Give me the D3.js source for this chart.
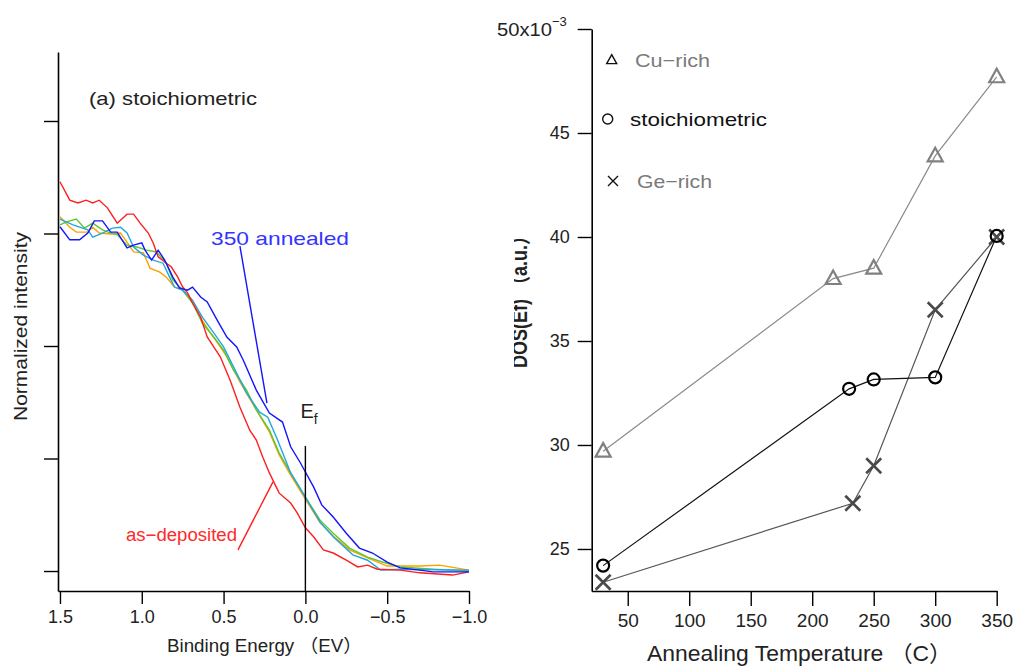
<!DOCTYPE html>
<html>
<head>
<meta charset="utf-8">
<script src="https://cdn.jsdelivr.net/npm/d3@7"></script>
<style>
  html, body { margin: 0; padding: 0; background: #fff; }
  svg { display: block; }
  text { font-family: "Liberation Sans", Arial, "Noto Sans CJK JP", sans-serif; }
</style>
</head>
<body>
<svg id="chart" width="1018" height="667"></svg>
<script>
// ---------- (a) photoemission spectra near the Fermi edge ----------
const energyTicks = [1.5, 1.0, 0.5, 0.0, -0.5, -1.0];
const energyTickLabels = ["1.5", "1.0", "0.5", "0.0", "\u22120.5", "\u22121.0"];
const intensityTicks = [0, 0.25, 0.5, 0.75, 1.0];

const redE = [1.50,1.44,1.39,1.34,1.30,1.26,1.21,1.15,1.09,1.05,1.01,0.96,0.93,0.90,0.85,0.82,0.78,0.75,0.72,0.69,0.64,0.60,0.56,0.52,0.46,0.40,0.34,0.30,0.26,0.22,0.16,0.09,0.05,0.00,-0.05,-0.11,-0.17,-0.25,-0.32,-0.38,-0.44,-0.58,-0.70,-0.90,-1.00];
const redI = [0.865,0.824,0.818,0.824,0.818,0.824,0.807,0.773,0.793,0.793,0.773,0.751,0.729,0.698,0.684,0.676,0.653,0.631,0.618,0.596,0.564,0.520,0.498,0.476,0.424,0.364,0.313,0.291,0.253,0.218,0.173,0.151,0.129,0.096,0.076,0.047,0.040,0.024,0.009,0.013,0.004,0.002,-0.004,-0.009,-0.002];

const orangeE = [1.50,1.44,1.40,1.33,1.30,1.26,1.19,1.13,1.09,1.05,0.99,0.95,0.89,0.85,0.80,0.75,0.69,0.64,0.58,0.52,0.48,0.40,0.30,0.22,0.16,0.09,0.00,-0.09,-0.17,-0.27,-0.38,-0.50,-0.70,-0.82,-1.00];
const orangeI = [0.787,0.764,0.753,0.753,0.764,0.751,0.749,0.751,0.731,0.709,0.707,0.673,0.664,0.653,0.631,0.624,0.596,0.562,0.529,0.498,0.476,0.420,0.358,0.309,0.258,0.213,0.160,0.107,0.078,0.047,0.029,0.011,0.011,0.013,0.002];

const greenE = [1.50,1.46,1.40,1.35,1.30,1.24,1.19,1.15,1.09,1.03,0.97,0.91,0.85,0.81,0.75,0.69,0.63,0.56,0.50,0.44,0.36,0.30,0.22,0.16,0.09,0.00,-0.09,-0.17,-0.27,-0.38,-0.47,-0.58,-0.78,-1.00];
const greenI = [0.769,0.776,0.782,0.762,0.773,0.758,0.751,0.747,0.724,0.720,0.713,0.709,0.684,0.647,0.624,0.596,0.551,0.520,0.491,0.447,0.402,0.358,0.313,0.262,0.218,0.164,0.113,0.084,0.051,0.031,0.020,0.009,0.004,0.000];

const cyanE = [1.50,1.42,1.33,1.30,1.24,1.18,1.13,1.09,1.05,0.99,0.93,0.87,0.83,0.80,0.75,0.69,0.63,0.56,0.50,0.43,0.36,0.28,0.23,0.17,0.09,0.00,-0.09,-0.17,-0.29,-0.38,-0.46,-0.58,-1.00];
const cyanI = [0.782,0.769,0.758,0.742,0.751,0.762,0.764,0.751,0.720,0.702,0.691,0.684,0.653,0.631,0.624,0.602,0.564,0.529,0.498,0.447,0.396,0.353,0.342,0.291,0.218,0.164,0.109,0.076,0.036,0.024,0.002,0.004,0.002];

const blueE = [1.50,1.44,1.38,1.33,1.29,1.24,1.19,1.15,1.09,1.05,1.00,0.98,0.94,0.90,0.86,0.81,0.77,0.72,0.69,0.64,0.60,0.54,0.48,0.42,0.38,0.30,0.22,0.14,0.09,0.03,0.00,-0.05,-0.10,-0.17,-0.25,-0.33,-0.41,-0.50,-0.58,-0.70,-0.78,-1.00];
const blueI = [0.765,0.736,0.736,0.751,0.778,0.778,0.753,0.753,0.718,0.724,0.729,0.713,0.691,0.713,0.691,0.653,0.629,0.624,0.631,0.609,0.598,0.558,0.520,0.498,0.469,0.402,0.351,0.331,0.276,0.240,0.220,0.187,0.147,0.120,0.084,0.051,0.040,0.020,0.007,0.002,-0.002,-0.002];

const spectra = [
  { name: "orange", color: "#ffa000", E: orangeE, I: orangeI },
  { name: "green",  color: "#5cc832", E: greenE,  I: greenI },
  { name: "cyan",   color: "#22a6e0", E: cyanE,   I: cyanI },
  { name: "red",    color: "#ff1e1e", E: redE,    I: redI },
  { name: "blue",   color: "#1414ff", E: blueE,   I: blueI }
];

// ---------- (b) DOS at the Fermi level vs annealing temperature ----------
const tempTicks = [50, 100, 150, 200, 250, 300, 350];
const dosTicks = [25, 30, 35, 40, 45, 50];

const cuRichT = [30, 217, 250, 300, 350];
const cuRichDOS = [29.7, 38.0, 38.5, 43.9, 47.7];
const stoichT = [30, 230, 250, 300, 350];
const stoichDOS = [24.2, 32.7, 33.15, 33.25, 40.05];
const geRichT = [30, 233, 250, 300, 350];
const geRichDOS = [23.4, 27.2, 29.0, 36.5, 40.0];

const svg = d3.select("#chart");

// helper: text stretched to a given advance width
function fitText(sel, len) {
  return sel.attr("textLength", len).attr("lengthAdjust", "spacingAndGlyphs");
}

// ======================= left panel =======================
const xE = d3.scaleLinear().domain([1.512, -1.0]).range([58, 469]);
const yI = d3.scaleLinear().domain([-0.0444, 1.1533]).range([591, 52]);

const left = svg.append("g");

left.append("g")
  .attr("transform", "translate(0,591)")
  .call(d3.axisBottom(xE).tickValues(energyTicks)
    .tickFormat((d, i) => energyTickLabels[i]).tickSize(13).tickSizeOuter(0))
  .call(g => g.select(".domain").attr("stroke-width", 1.6))
  .call(g => g.selectAll(".tick line").attr("stroke-width", 1.4))
  .call(g => g.selectAll(".tick text").attr("font-size", 18).attr("dy", "0.9em").attr("fill", "#222"));

left.append("g")
  .attr("transform", "translate(58,0)")
  .call(d3.axisLeft(yI).tickValues(intensityTicks).tickFormat("").tickSize(14).tickSizeOuter(0))
  .call(g => g.select(".domain").attr("stroke-width", 1.6))
  .call(g => g.selectAll(".tick line").attr("stroke-width", 1.4));

const specLine = d3.line().x(d => xE(d[0])).y(d => yI(d[1]));
left.append("g").selectAll("path")
  .data(spectra)
  .join("path")
  .attr("d", s => specLine(s.E.map((e, i) => [e, s.I[i]])))
  .attr("fill", "none")
  .attr("stroke", s => s.color)
  .attr("stroke-width", 1.4);

// Fermi level marker
const efTop = 0.278;
left.append("line")
  .attr("x1", xE(0)).attr("x2", xE(0))
  .attr("y1", yI(efTop)).attr("y2", yI(-0.0444))
  .attr("stroke", "#000").attr("stroke-width", 1.4);
const efLabel = left.append("text")
  .attr("x", xE(0) - 5).attr("y", yI(efTop) - 28)
  .attr("font-size", 20).attr("fill", "#222");
efLabel.append("tspan").text("E");
efLabel.append("tspan").attr("font-size", 14).attr("dy", 6).text("f");

// annotations with leader lines
left.append("line")
  .attr("x1", xE(0.400)).attr("y1", yI(0.722))
  .attr("x2", xE(0.235)).attr("y2", yI(0.373))
  .attr("stroke", "#1414ff").attr("stroke-width", 1.4);
fitText(left.append("text")
  .attr("x", 211).attr("y", 245)
  .attr("font-size", 19).attr("fill", "#3434ff")
  .text("350 annealed"), 138);

left.append("line")
  .attr("x1", xE(0.412)).attr("y1", yI(0.047))
  .attr("x2", xE(0.198)).attr("y2", yI(0.198))
  .attr("stroke", "#ff1e1e").attr("stroke-width", 1.4);
fitText(left.append("text")
  .attr("x", 126).attr("y", 541)
  .attr("font-size", 18).attr("fill", "#ff2a2a")
  .text("as\u2212deposited"), 111);

fitText(left.append("text")
  .attr("x", 89).attr("y", 105)
  .attr("font-size", 19).attr("fill", "#222")
  .text("(a) stoichiometric"), 168);

fitText(left.append("text")
  .attr("transform", "translate(27,232) rotate(-90)")
  .attr("x", -189).attr("y", 0)
  .attr("font-size", 18).attr("fill", "#222")
  .text("Normalized intensity"), 189);

fitText(left.append("text")
  .attr("x", 167).attr("y", 652)
  .attr("font-size", 18).attr("fill", "#222")
  .text("Binding Energy \uFF08EV\uFF09"), 195);

// ======================= right panel =======================
const xT = d3.scaleLinear().domain([20.7, 350]).range([591.7, 996.7]);
const yD = d3.scaleLinear().domain([22.98, 50]).range([591, 29]);

const right = svg.append("g");

right.append("g")
  .attr("transform", "translate(0,591)")
  .call(d3.axisBottom(xT).tickValues(tempTicks).tickSize(15).tickSizeOuter(0))
  .call(g => g.select(".domain").attr("stroke-width", 1.6))
  .call(g => g.selectAll(".tick line").attr("stroke-width", 1.4))
  .call(g => g.selectAll(".tick text").attr("font-size", 19).attr("dy", "0.95em").attr("fill", "#222"));

right.append("g")
  .attr("transform", "translate(591.7,0)")
  .call(d3.axisLeft(yD).tickValues(dosTicks).tickSize(14).tickSizeOuter(0)
    .tickFormat(d => d === 50 ? "" : d))
  .call(g => g.select(".domain").attr("stroke-width", 1.6))
  .call(g => g.selectAll(".tick line").attr("stroke-width", 1.4))
  .call(g => g.selectAll(".tick text").attr("font-size", 18).attr("x", -22).attr("fill", "#222"));

// top tick label with the scale multiplier
const topLbl = right.append("text")
  .attr("x", 497).attr("y", yD(50) + 7)
  .attr("font-size", 18).attr("fill", "#222");
fitText(topLbl.append("tspan").text("50x10"), 55);
topLbl.append("tspan").attr("font-size", 13).attr("dy", -10).text("\u22123");

// axis titles; the y title is cut by the panel's left edge
const clip = svg.append("defs").append("clipPath").attr("id", "ytitleClip");
clip.append("rect").attr("x", 514).attr("y", 0).attr("width", 60).attr("height", 667);
fitText(right.append("g").attr("clip-path", "url(#ytitleClip)")
  .append("text")
  .attr("transform", "translate(527,368) rotate(-90)")
  .attr("font-size", 22).attr("font-weight", "bold").attr("fill", "#222")
  .text("DOS(Ef) \uFF08a.u.\uFF09"), 141);

fitText(right.append("text")
  .attr("x", 647).attr("y", 661)
  .attr("font-size", 22).attr("fill", "#222")
  .text("Annealing Temperature \uFF08C\uFF09"), 305);

// series lines
const tLine = d3.line().x(d => xT(d[0])).y(d => yD(d[1]));
const series = [
  { T: cuRichT, D: cuRichDOS, line: "#8a8a8a", mark: "#808080", kind: "tri" },
  { T: geRichT, D: geRichDOS, line: "#555555", mark: "#4a4a4a", kind: "x" },
  { T: stoichT, D: stoichDOS, line: "#111111", mark: "#000000", kind: "circ" }
];
series.forEach(s => {
  right.append("path")
    .attr("d", tLine(s.T.map((t, i) => [t, s.D[i]])))
    .attr("fill", "none").attr("stroke", s.line).attr("stroke-width", 1.2);
});

function drawMarker(g, kind, cx, cy, size, color, width) {
  if (kind === "tri") {
    const h = size * 0.9;
    g.append("path")
      .attr("d", `M${cx},${cy - h * 0.6}L${cx + size / 2},${cy + h * 0.4}L${cx - size / 2},${cy + h * 0.4}Z`)
      .attr("fill", "none").attr("stroke", color).attr("stroke-width", width);
  } else if (kind === "circ") {
    g.append("circle").attr("cx", cx).attr("cy", cy).attr("r", size / 2)
      .attr("fill", "none").attr("stroke", color).attr("stroke-width", width);
  } else {
    const r = size / 2;
    g.append("path")
      .attr("d", `M${cx - r},${cy - r}L${cx + r},${cy + r}M${cx - r},${cy + r}L${cx + r},${cy - r}`)
      .attr("stroke", color).attr("stroke-width", width);
  }
}

series.forEach(s => {
  s.T.forEach((t, i) => {
    const size = s.kind === "tri" ? 15 : s.kind === "circ" ? 12 : 15;
    const w = s.kind === "x" ? 2.6 : 2.2;
    drawMarker(right, s.kind, xT(t), yD(s.D[i]), size, s.mark, w);
  });
});

// legend
const legendItems = [
  { kind: "tri",  label: "Cu\u2212rich",      color: "#7a7a7a", mx: 611.7, y: 60,  tx: 635, len: 75 },
  { kind: "circ", label: "stoichiometric",  color: "#111111", mx: 607.7, y: 119, tx: 630, len: 137 },
  { kind: "x",    label: "Ge\u2212rich",      color: "#7a7a7a", mx: 613,   y: 181, tx: 637, len: 75 }
];
legendItems.forEach(it => {
  drawMarker(right, it.kind, it.mx, it.y, 10, "#111", 1.4);
  fitText(right.append("text")
    .attr("x", it.tx).attr("y", it.y + 7)
    .attr("font-size", 19).attr("fill", it.color)
    .text(it.label), it.len);
});
</script>
</body>
</html>
